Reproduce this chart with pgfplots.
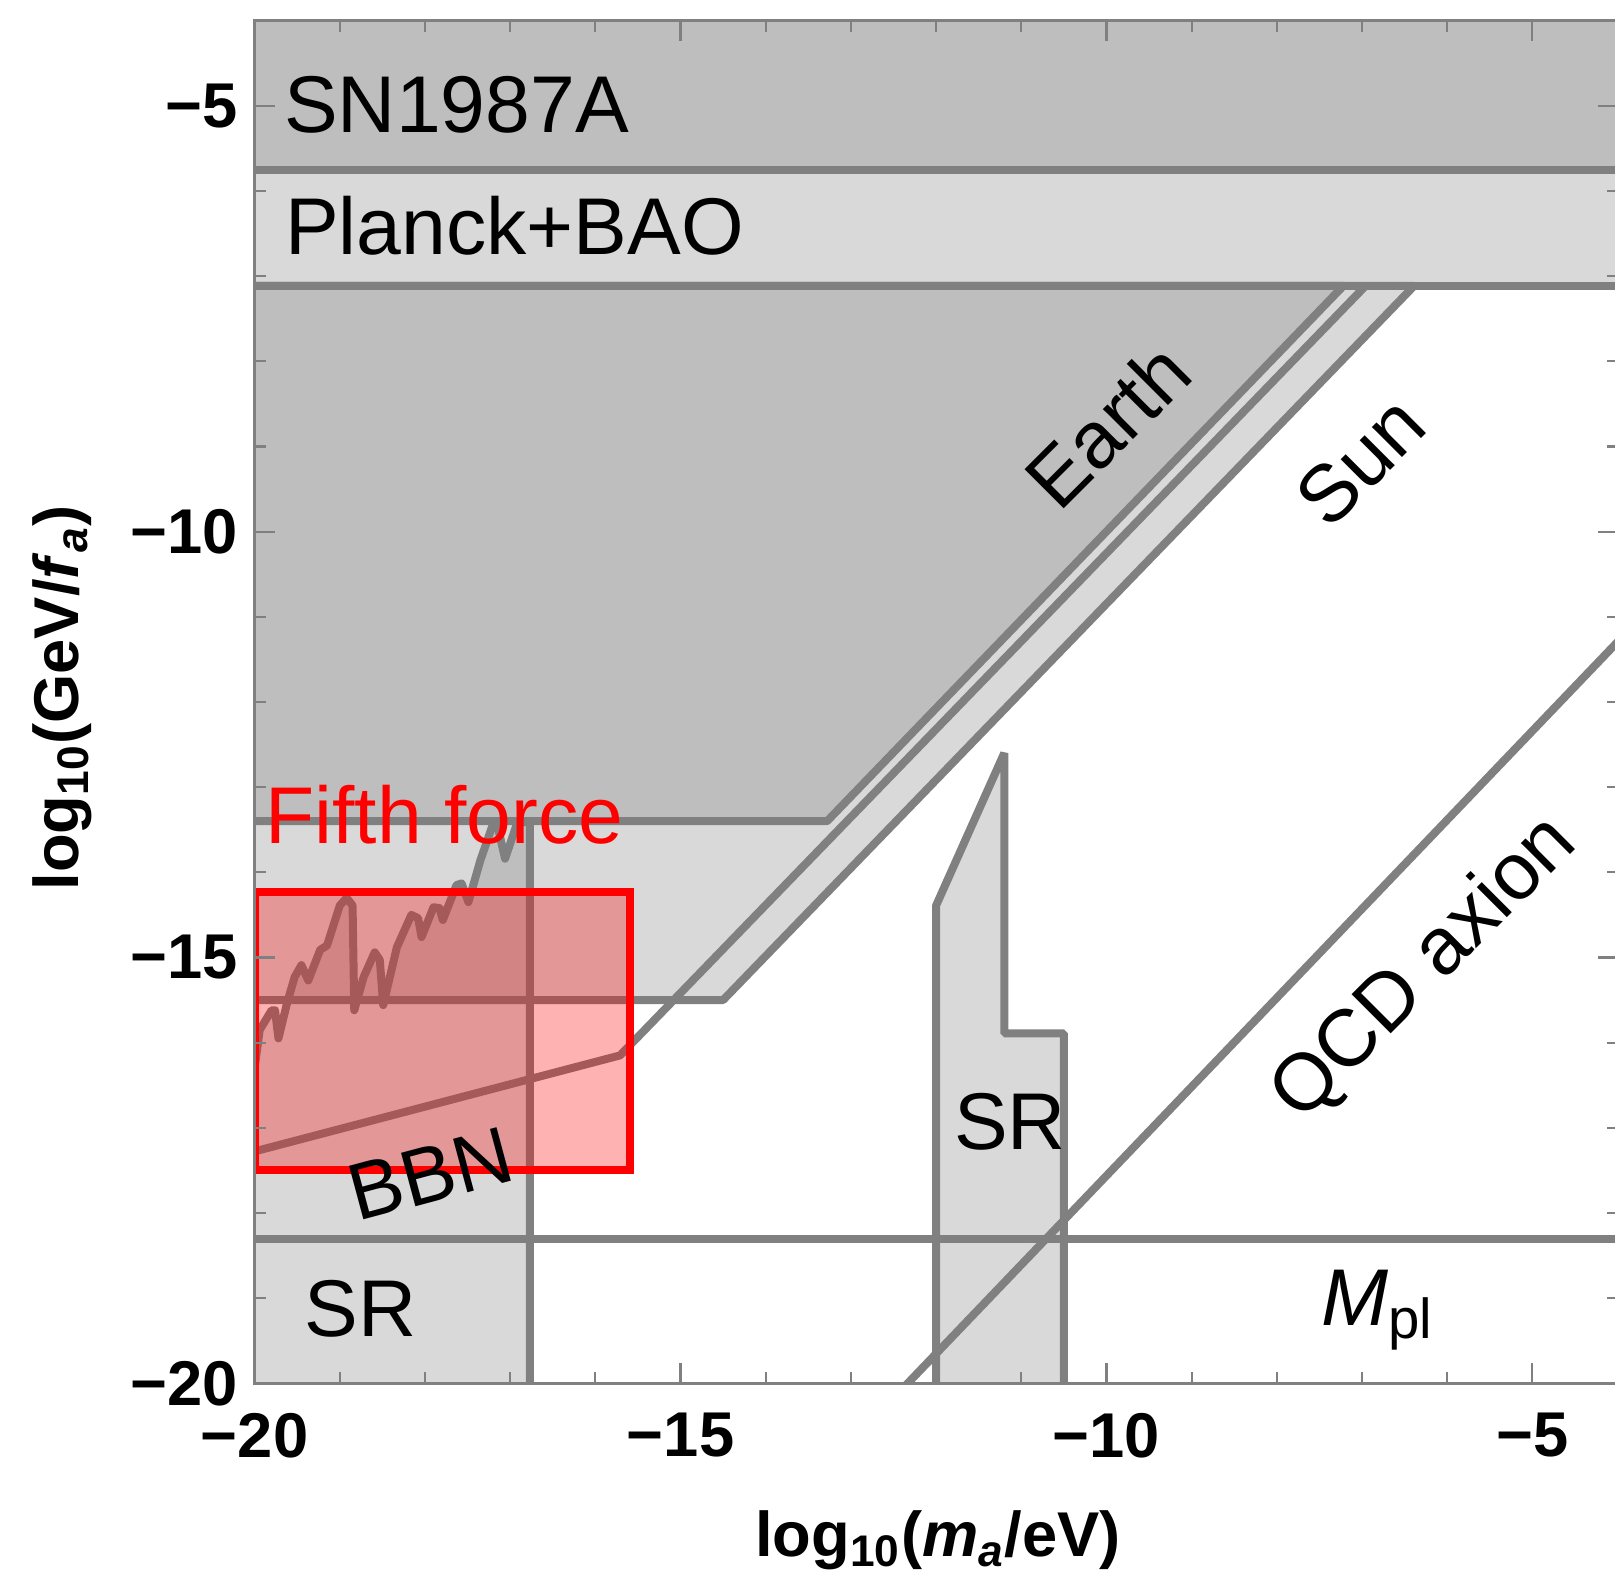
\documentclass[border=0pt]{standalone}
\usepackage{fontspec}
\setmainfont{Liberation Sans}
\usepackage{pgfplots}
\pgfplotsset{compat=1.18}
\begin{document}
\begin{tikzpicture}
\useasboundingbox (0,0) rectangle (16.15cm,15.73cm);
\begin{axis}[
  at={(2.546cm,1.897cm)}, anchor=south west,
  scale only axis, width=13.63cm, height=13.626cm,
  xmin=-20, xmax=-4, ymin=-20, ymax=-4,
  xtick={-20,-15,-10,-5}, xticklabels={−20,−15,−10,−5},
  ytick={-20,-15,-10,-5}, yticklabels={−20,−15,−10,−5},
  minor xtick={-19,-18,...,-4}, minor ytick={-19,-18,...,-4},
  tick align=inside,
  major tick length=2mm, minor tick length=1.1mm,
  every tick/.append style={gray, line width=0.6pt},
  axis line style={gray, line width=0.7pt},
  axis on top,
  ticklabel style={font=\fontsize{18}{18}\selectfont\bfseries, inner sep=0pt},
  xticklabel style={anchor=north, yshift=-2.9mm},
  yticklabel style={anchor=east, xshift=-1.6mm},
  clip=true,
]
% SN1987A
\addplot[draw=gray, line width=0.8mm, line join=bevel, fill=gray, fill opacity=0.3] coordinates {(-21,-3) (-3,-3) (-3,-5.75) (-21,-5.75)} --cycle;
% Planck+BAO
\addplot[draw=gray, line width=0.8mm, line join=bevel, fill=gray, fill opacity=0.3] coordinates {(-21,-3) (-3,-3) (-3,-7.115) (-21,-7.115)} --cycle;
% Earth
\addplot[draw=gray, line width=0.8mm, line join=bevel, fill=gray, fill opacity=0.3] coordinates {(-21,-7.115) (-21,-13.40) (-13.28,-13.40) (-7.22,-7.115)} --cycle;
% Sun
\addplot[draw=gray, line width=0.8mm, line join=bevel, fill=gray, fill opacity=0.3] coordinates {(-21,-7.115) (-21,-15.50) (-14.50,-15.50) (-6.39,-7.115)} --cycle;
% BBN
\addplot[draw=gray, line width=0.8mm, line join=bevel] coordinates {(-21,-17.54) (-15.71,-16.15) (-6.96,-7.115)};
% SR (left)
\addplot[draw=gray, line width=0.8mm, line join=round, fill=gray, fill opacity=0.3] coordinates {
(-20.3,-21) (-20.3,-16.9) (-20.00,-16.30) (-19.94,-15.85) (-19.80,-15.62) (-19.76,-15.62)
(-19.72,-15.95) (-19.62,-15.54) (-19.53,-15.23) (-19.45,-15.09) (-19.37,-15.27)
(-19.23,-14.91) (-19.15,-14.86) (-19.00,-14.39) (-18.92,-14.30) (-18.85,-14.39)
(-18.83,-15.62) (-18.72,-15.23) (-18.59,-14.94) (-18.53,-15.03) (-18.49,-15.56)
(-18.33,-14.88) (-18.16,-14.50) (-18.08,-14.54) (-18.04,-14.76) (-17.90,-14.41)
(-17.83,-14.42) (-17.79,-14.56) (-17.63,-14.15) (-17.57,-14.13) (-17.49,-14.35)
(-17.35,-13.86) (-17.20,-13.43) (-17.14,-13.49) (-17.06,-13.84) (-16.92,-13.43)
(-16.83,-13.41) (-16.77,-13.40) (-16.77,-21)} --cycle;
% SR (right)
\addplot[draw=gray, line width=0.8mm, line join=bevel, fill=gray, fill opacity=0.3] coordinates {(-12.0,-21) (-12.0,-14.39) (-11.20,-12.60) (-11.20,-15.89) (-10.50,-15.89) (-10.50,-21)} --cycle;
% M_pl
\addplot[draw=gray, line width=0.8mm] coordinates {(-21,-18.30) (-3,-18.30)};
% QCD axion
\addplot[draw=gray, line width=0.8mm] coordinates {(-13.29,-21) (-3,-10.25)};
% Fifth force
\addplot[draw=red, line width=0.8mm, fill=red, fill opacity=0.3] coordinates {(-20,-14.23) (-15.59,-14.23) (-15.59,-17.50) (-20,-17.50)} --cycle;

\begin{scope}[every node/.style={font=\fontsize{22.9}{27}\selectfont, inner sep=0pt}]
\node[anchor=base west] at (axis cs:-19.66,-5.31) {SN1987A};
\node[anchor=base west] at (axis cs:-19.65,-6.74) {Planck+BAO};
\node[anchor=base west, text=red] at (axis cs:-19.88,-13.66) {Fifth force};
\node[rotate=45] at (axis cs:-9.99,-8.75) {Earth};
\node[rotate=45] at (axis cs:-7.02,-9.17) {Sun};
\node[rotate=45] at (axis cs:-6.26,-15.14) {QCD axion};
\node at (axis cs:-11.13,-16.93) {SR};
\node at (axis cs:-18.76,-19.12) {SR};
\node[rotate=15] at (axis cs:-17.94,-17.54) {BBN};
\node at (axis cs:-6.82,-19.14) {\textit{M}\textsubscript{pl}};
\end{scope}
\end{axis}
\node[font=\fontsize{18}{20}\selectfont\bfseries, anchor=base, inner sep=0pt] at (9.38cm,0.16cm) {log\textsubscript{10}(\textit{m}\textsubscript{\textit{a}}/eV)};
\node[font=\fontsize{18}{20}\selectfont\bfseries, rotate=90, inner sep=0pt] at (0.62cm,8.75cm) {log\textsubscript{10}(GeV/\textit{f}\textsubscript{\textit{a}})};
\end{tikzpicture}
\end{document}
